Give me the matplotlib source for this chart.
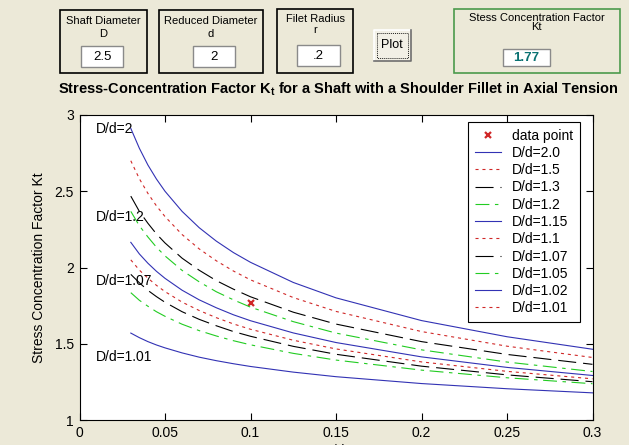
import matplotlib
matplotlib.use('Agg')
import matplotlib.pyplot as plt
from matplotlib.patches import Rectangle
from matplotlib.lines import Line2D

plt.rcParams['font.family'] = ['Liberation Sans', 'DejaVu Sans']
plt.rcParams['mathtext.fontset'] = 'custom'
plt.rcParams['mathtext.rm'] = 'Liberation Sans'
plt.rcParams['mathtext.bf'] = 'Liberation Sans:bold'
plt.rcParams['lines.scale_dashes'] = False

# r/d sample points and Kt read for each D/d curve
r_d = [0.03, 0.035, 0.04, 0.045, 0.05, 0.06, 0.07, 0.08, 0.09, 0.1, 0.125, 0.15, 0.2, 0.25, 0.3]

kt_2_0 = [2.912, 2.782, 2.672, 2.580, 2.500, 2.368, 2.261, 2.173, 2.098, 2.034, 1.902, 1.801, 1.652, 1.546, 1.464]
kt_1_5 = [2.700, 2.582, 2.486, 2.404, 2.334, 2.216, 2.122, 2.044, 1.977, 1.919, 1.803, 1.712, 1.580, 1.484, 1.410]
kt_1_3 = [2.468, 2.368, 2.290, 2.220, 2.161, 2.061, 1.982, 1.914, 1.858, 1.808, 1.707, 1.629, 1.514, 1.430, 1.365]
kt_1_2 = [2.368, 2.274, 2.200, 2.133, 2.076, 1.981, 1.906, 1.841, 1.788, 1.740, 1.645, 1.570, 1.460, 1.380, 1.318]
kt_1_15 = [2.165, 2.089, 2.028, 1.975, 1.929, 1.851, 1.788, 1.736, 1.690, 1.651, 1.571, 1.508, 1.414, 1.345, 1.292]
kt_1_1 = [2.050, 1.983, 1.930, 1.883, 1.842, 1.773, 1.718, 1.671, 1.630, 1.595, 1.523, 1.466, 1.381, 1.319, 1.270]
kt_1_07 = [1.955, 1.900, 1.850, 1.809, 1.772, 1.710, 1.660, 1.618, 1.580, 1.549, 1.483, 1.431, 1.353, 1.296, 1.251]
kt_1_05 = [1.835, 1.785, 1.746, 1.710, 1.680, 1.628, 1.586, 1.551, 1.520, 1.493, 1.437, 1.393, 1.327, 1.277, 1.238]
kt_1_02 = [1.570, 1.540, 1.514, 1.492, 1.473, 1.440, 1.412, 1.389, 1.369, 1.351, 1.314, 1.284, 1.239, 1.205, 1.178]

# the 1.01 entry only appears in the legend
curves = [kt_2_0, kt_1_5, kt_1_3, kt_1_2, kt_1_15, kt_1_1, kt_1_07, kt_1_05, kt_1_02, None]
curve_names = ['D/d=2.0', 'D/d=1.5', 'D/d=1.3', 'D/d=1.2', 'D/d=1.15',
               'D/d=1.1', 'D/d=1.07', 'D/d=1.05', 'D/d=1.02', 'D/d=1.01']

# input values and computed result shown in the form
shaft_D = '2.5'
reduced_d = '2'
fillet_r = '.2'
point_rd = 0.1
point_kt = 1.77

side_labels = ['D/d=2', 'D/d=1.2', 'D/d=1.07', 'D/d=1.01']
side_label_kt = [2.91, 2.33, 1.91, 1.41]

blue = '#3232b4'
red = '#d02828'
green = '#22cc22'
styles = [
    dict(color=blue, linestyle='-'),
    dict(color=red, linestyle=(0, (2.2, 2.8))),
    dict(color='black', linestyle=(0, (13, 5))),
    dict(color=green, linestyle=(0, (10, 4, 2.5, 4))),
]

W, H = 629, 445
fig = plt.figure(figsize=(W / 100, H / 100), dpi=100)
fig.patch.set_facecolor('#ece9d8')

# form controls drawn in pixel space
ui = fig.add_axes([0, 0, 1, 1], zorder=0)
ui.set_xlim(0, W)
ui.set_ylim(H, 0)
ui.axis('off')


def panel(x0, y0, x1, y1, ec='black', lw=1.2):
    ui.add_patch(Rectangle((x0, y0), x1 - x0, y1 - y0, fill=False, ec=ec, lw=lw))


def edit_box(x0, y0, x1, y1, text, **kw):
    ui.add_patch(Rectangle((x0, y0), x1 - x0, y1 - y0, fc='white', ec='#8a8a8a', lw=1.0))
    ui.text((x0 + x1) / 2, (y0 + y1) / 2 + 0.5, text, ha='center', va='center',
            fontsize=9.5, **kw)


panel(60, 9.5, 147, 72.5)
ui.text(103.5, 20.5, 'Shaft Diameter', ha='center', va='center', fontsize=8)
ui.text(103.5, 34, 'D', ha='center', va='center', fontsize=8)
edit_box(81, 45.5, 123, 66.5, shaft_D)

panel(159, 9.5, 263, 72.5)
ui.text(211, 20.5, 'Reduced Diameter', ha='center', va='center', fontsize=8)
ui.text(211, 34, 'd', ha='center', va='center', fontsize=8)
edit_box(192.5, 45.5, 235, 66.5, reduced_d)

panel(277, 9, 353, 72.5)
ui.text(315, 18.5, 'Filet Radius', ha='center', va='center', fontsize=8)
ui.text(315, 30, 'r', ha='center', va='center', fontsize=8)
edit_box(297, 45, 340, 66, fillet_r)

# Plot button with raised edges and focus rectangle
ui.add_patch(Rectangle((373.5, 29.5), 37, 31, fc='#f2f0e6', ec='none'))
ui.plot([373.5, 373.5, 410.5], [60.5, 29.5, 29.5], color='white', lw=1.2)
ui.plot([373.5, 410.5, 410.5], [60.5, 60.5, 29.5], color='#6e6e6e', lw=1.2)
ui.add_patch(Rectangle((376.5, 32.5), 31, 25, fill=False, ec='black', lw=0.6,
                       linestyle=(0, (0.7, 0.7))))
ui.text(392, 45.5, 'Plot', ha='center', va='center', fontsize=9)

panel(453.5, 9, 620, 72.5, ec='#4c9a4c', lw=1.2)
ui.text(536.5, 18, 'Stess Concentration Factor', ha='center', va='center', fontsize=8)
ui.text(536.5, 27.5, 'Kt', ha='center', va='center', fontsize=8)
edit_box(502.5, 49, 549.5, 66, '%.2f' % point_kt, color='#0b7272', fontweight='bold')

ui.text(338, 89.5, r'Stress-Concentration Factor $\mathbf{K_t}$ for a Shaft with a '
        'Shoulder Fillet in Axial Tension', ha='center', va='center',
        fontsize=10.5, fontweight='bold')

# main chart
ax = fig.add_axes([79.5 / W, 1 - 420 / H, 513 / W, 305 / H], zorder=1)
ax.set_facecolor('white')

point, = ax.plot([point_rd], [point_kt], 'x', color=red, ms=4, mew=1.6, label='data point')
handles = [point]
for i, (kt, name) in enumerate(zip(curves, curve_names)):
    st = styles[i % 4]
    if kt is None:
        h = Line2D([], [], lw=0.8, label=name, **st)
    else:
        h, = ax.plot(r_d, kt, lw=0.8, label=name, **st)
    handles.append(h)

for txt, y in zip(side_labels, side_label_kt):
    ax.text(0.0097, y, txt, ha='left', va='center', fontsize=10)

ax.set_xlim(0, 0.3)
ax.set_ylim(1, 3)
ax.set_xticks([0, 0.05, 0.1, 0.15, 0.2, 0.25, 0.3])
ax.set_xticklabels(['0', '0.05', '0.1', '0.15', '0.2', '0.25', '0.3'])
ax.set_yticks([1, 1.5, 2, 2.5, 3])
ax.set_yticklabels(['1', '1.5', '2', '2.5', '3'])
ax.tick_params(direction='in', length=5, width=0.8, top=True, right=True,
               labelsize=10, pad=4)
for sp in ax.spines.values():
    sp.set_linewidth(0.8)
ax.set_ylabel('Stress Concentration Factor Kt', fontsize=10, labelpad=6)
ax.set_xlabel('r/d', fontsize=10, labelpad=3)

leg = ax.legend(handles=handles, loc='upper left', bbox_to_anchor=(0.757, 0.978),
                borderaxespad=0, fontsize=10, frameon=True, fancybox=False,
                edgecolor='black', framealpha=1, handlelength=1.9,
                handletextpad=0.8, labelspacing=0.235, borderpad=0.5, numpoints=1)
leg.get_frame().set_linewidth(0.8)

fig.savefig('out.png', dpi=100, facecolor=fig.get_facecolor())
